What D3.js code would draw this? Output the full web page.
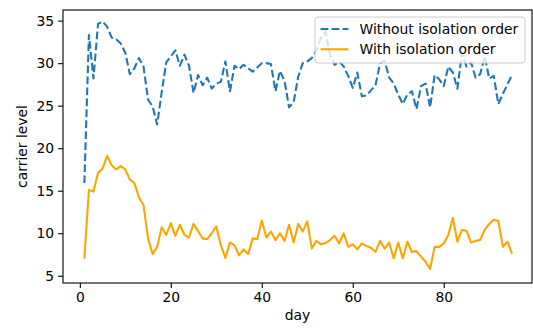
<!DOCTYPE html>
<html>
<head>
<meta charset="utf-8">
<script src="https://cdn.jsdelivr.net/npm/d3@7"></script>
<style>
	body { margin: 0; background: #fff; }
	svg { display: block; font-family: "DejaVu Sans", sans-serif; }
</style>
</head>
<body>
<div class="chart"></div>
<script>
// days 1..95
var days = d3.range(1, 96);

var withoutOrder = [
	15.9, 33.3, 28.2, 34.6, 34.9, 34.3, 33.0, 32.8, 32.3, 31.2,
	28.7, 29.4, 30.6, 29.6, 25.7, 24.9, 22.8, 26.6, 30.1, 30.8,
	31.5, 29.7, 31.0, 29.7, 26.5, 28.6, 27.4, 28.3, 27.0, 27.6,
	27.8, 30.2, 26.7, 29.7, 29.3, 29.8, 29.4, 29.0, 29.5, 30.0,
	30.0, 29.9, 26.7, 29.1, 27.9, 24.8, 25.4, 28.4, 30.0, 30.2,
	30.6, 31.5, 33.0, 33.7, 31.0, 29.8, 30.2, 29.6, 28.5, 27.1,
	28.9, 26.1, 26.2, 26.8, 27.4, 30.0, 30.3, 28.3, 27.6, 26.3,
	25.2, 26.3, 26.7, 24.6, 27.3, 27.6, 24.8, 28.6, 28.1, 27.3,
	29.6, 28.9, 27.0, 31.2, 29.6, 30.1, 28.3, 28.7, 30.8, 28.2,
	28.5, 25.2, 26.4, 27.5, 28.6
];

var withOrder = [
	7.0, 15.1, 14.9, 17.1, 17.6, 19.1, 18.0, 17.5, 17.9, 17.5,
	16.3, 15.9, 14.2, 13.3, 9.4, 7.55, 8.4, 10.7, 9.8, 11.2,
	9.7, 11.0, 9.8, 9.5, 11.1, 10.25, 9.4, 9.3, 10.0, 10.8,
	8.6, 7.1, 8.9, 8.6, 7.4, 8.1, 7.55, 9.4, 9.3, 11.5,
	9.5, 10.2, 9.2, 10.0, 9.1, 11.0, 8.9, 11.1, 10.2, 11.4,
	8.2, 9.1, 8.7, 8.85, 9.2, 9.7, 8.8, 10.0, 8.4, 8.7,
	8.1, 8.8, 8.5, 8.3, 7.8, 9.1, 8.2, 8.9, 7.05, 8.9,
	7.05, 9.0, 7.8, 7.9, 7.25, 6.65, 5.8, 8.4, 8.4, 8.8,
	9.8, 11.8, 9.0, 10.4, 10.3, 8.9, 9.1, 9.2, 10.4, 11.1,
	11.6, 11.45, 8.4, 9.0, 7.6
];

var seriesNames = ['Without isolation order', 'With isolation order'];
var xTicks = [0, 20, 40, 60, 80];
var yTicks = [5, 10, 15, 20, 25, 30, 35];

var w = 533,
	h = 329,
	plotLeft = 63,
	plotRight = 532,
	plotTop = 10,
	plotBottom = 283;

var xScale = d3.scaleLinear()
	.domain([-3.7, 99.4])
	.range([plotLeft, plotRight]);

var yScale = d3.scaleLinear()
	.domain([4.15, 36.25])
	.range([plotBottom, plotTop]);

var svg = d3.select('.chart')
	.append('svg')
	.attr('width', w)
	.attr('height', h);

var line = function(values) {
	return d3.line()
		.x(function(d, i) { return xScale(days[i]); })
		.y(function(d) { return yScale(d); })(values);
};

svg.append('path')
	.attr('d', line(withoutOrder))
	.attr('fill', 'none')
	.attr('stroke', '#1f77b4')
	.attr('stroke-width', 2.1)
	.attr('stroke-dasharray', '7.7,3.3')
	.attr('stroke-linejoin', 'round');

svg.append('path')
	.attr('d', line(withOrder))
	.attr('fill', 'none')
	.attr('stroke', '#ffa500')
	.attr('stroke-width', 2.1)
	.attr('stroke-linejoin', 'round');

// axes
var xAxis = svg.append('g')
	.attr('transform', 'translate(0,' + plotBottom + ')')
	.call(d3.axisBottom(xScale).tickValues(xTicks).tickSize(4.9).tickPadding(4).tickSizeOuter(0));

var yAxis = svg.append('g')
	.attr('transform', 'translate(' + plotLeft + ',0)')
	.call(d3.axisLeft(yScale).tickValues(yTicks).tickSize(4.9).tickPadding(4).tickSizeOuter(0));

[xAxis, yAxis].forEach(function(g) {
	g.select('.domain').remove();
	g.selectAll('line').attr('stroke', '#000').attr('stroke-width', 1.1);
	g.selectAll('text')
		.attr('fill', '#000')
		.style('font-family', '"DejaVu Sans", sans-serif')
		.style('font-size', '13.9px');
});
xAxis.selectAll('text').attr('dy', '0.75em');

svg.append('rect')
	.attr('x', plotLeft)
	.attr('y', plotTop)
	.attr('width', plotRight - plotLeft)
	.attr('height', plotBottom - plotTop)
	.attr('fill', 'none')
	.attr('stroke', '#000')
	.attr('stroke-width', 1.1);

svg.append('text')
	.attr('x', (plotLeft + plotRight) / 2)
	.attr('y', 320)
	.attr('text-anchor', 'middle')
	.style('font-size', '13.9px')
	.text('day');

svg.append('text')
	.attr('transform', 'translate(27,' + (plotTop + plotBottom) / 2 + ') rotate(-90)')
	.attr('text-anchor', 'middle')
	.style('font-size', '13.9px')
	.text('carrier level');

// legend
var legend = svg.append('g');

legend.append('rect')
	.attr('x', 315)
	.attr('y', 17)
	.attr('width', 210)
	.attr('height', 46)
	.attr('rx', 3)
	.attr('fill', '#fff')
	.attr('fill-opacity', 0.8)
	.attr('stroke', '#cccccc')
	.attr('stroke-width', 1);

var legendRows = [
	{ name: seriesNames[0], color: '#1f77b4', dash: '7.7,3.3' },
	{ name: seriesNames[1], color: '#ffa500', dash: null }
];

legendRows.forEach(function(d, i) {
	var cy = 29 + i * 20.3;
	legend.append('line')
		.attr('x1', 320.6)
		.attr('x2', 348.4)
		.attr('y1', cy)
		.attr('y2', cy)
		.attr('stroke', d.color)
		.attr('stroke-width', 2.1)
		.attr('stroke-dasharray', d.dash);
	legend.append('text')
		.attr('x', 359.5)
		.attr('y', cy + 5)
		.style('font-size', '13.9px')
		.text(d.name);
});
</script>
</body>
</html>
